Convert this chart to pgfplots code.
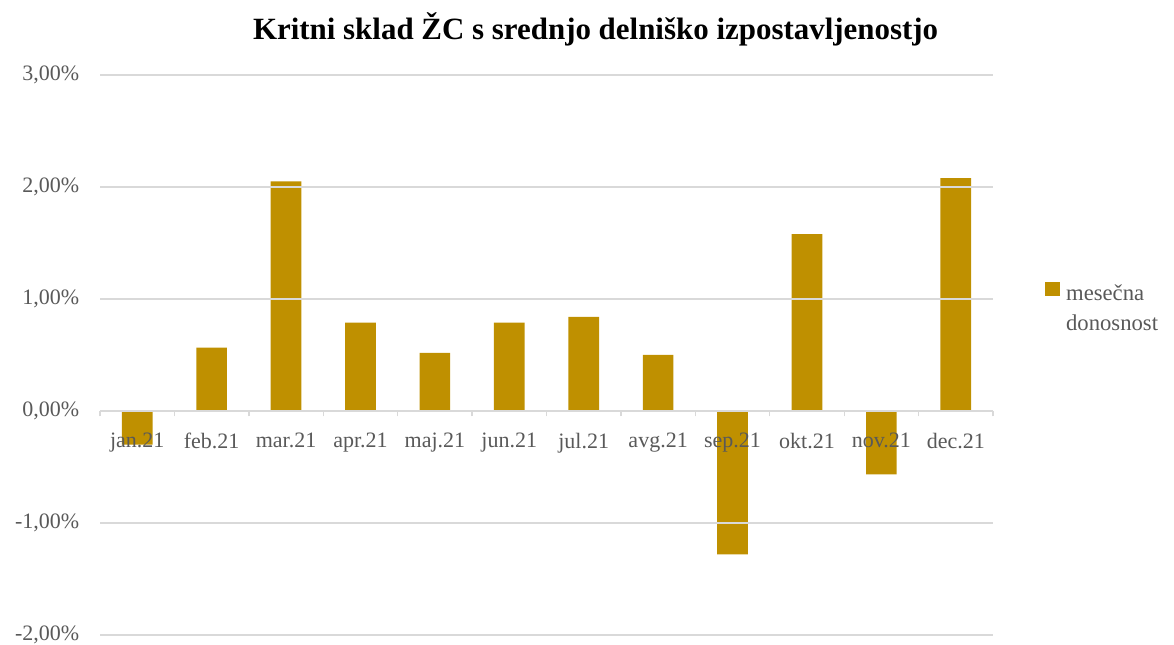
\documentclass[border=0pt]{standalone}
\usepackage{fontspec}
\setmainfont{Liberation Serif}
\usepackage{pgfplots}
\pgfplotsset{compat=1.18}
\definecolor{barc}{HTML}{BF9000}
\definecolor{gridc}{HTML}{D9D9D9}
\definecolor{txtc}{HTML}{595959}
\pgfplotsset{
  layers/labelsontop/.define layer set={
    axis background,axis grid,bars,axis ticks,axis lines,axis tick labels,pre main,main,axis descriptions,axis foreground
  }{},
}
\begin{document}
\begin{tikzpicture}
\begin{axis}[
  set layers=labelsontop,
  scale only axis, width=669.75pt, height=420pt,
  xmin=-0.5, xmax=11.5, ymin=-2, ymax=3,
  axis x line=middle, axis y line=left,
  x axis line style={-, draw=gridc, line width=1pt},
  y axis line style={draw=none},
  hide obscured x ticks=false, hide obscured y ticks=false,
  xtick={0,...,11},
  xticklabels={jan.21,feb.21,mar.21,apr.21,maj.21,jun.21,jul.21,avg.21,sep.21,okt.21,nov.21,dec.21},
  minor xtick={-0.5,0.5,...,11.5},
  major x tick style={draw=none},
  minor x tick style={draw=gridc, line width=1pt},
  minor tick length=4pt,
  tick align=outside,
  xticklabel style={font=\fontsize{16.5}{20}\selectfont, text=txtc, yshift=-13pt},
  ytick={-2,-1,0,1,2,3},
  yticklabels={{-2,00\%},{-1,00\%},{0,00\%},{1,00\%},{2,00\%},{3,00\%}},
  ytick style={draw=none},
  major tick length=0pt,
  yticklabel style={font=\fontsize{16.5}{20}\selectfont, text=txtc, xshift=-12pt},
  ymajorgrids, grid style={draw=gridc, line width=1pt},
  ybar, bar width=23pt,
  title={Kritni sklad ŽC s srednjo delniško izpostavljenostjo},
  title style={font=\bfseries\fontsize{23.2}{28}\selectfont, at={(0.555,1)}, anchor=south, yshift=12pt},
  legend style={at={(1.054,0.614)}, anchor=west, draw=none, font=\fontsize{17}{22.5}\selectfont, text=txtc},
  legend cell align=left,
  legend image code/.code={\fill[barc] (0pt,-4pt) rectangle (10.5pt,6.5pt);},
]
\addplot[fill=barc, draw=none, on layer=bars] coordinates {
(0,-0.30) (1,0.565) (2,2.05) (3,0.79) (4,0.52) (5,0.79)
(6,0.84) (7,0.50) (8,-1.28) (9,1.58) (10,-0.565) (11,2.08)};
\addlegendentry{\begin{tabular}[t]{@{\hspace{3pt}}l@{}}mesečna\\donosnost\end{tabular}}
\coordinate (pa) at (rel axis cs:0,0);
\coordinate (pb) at (rel axis cs:1,1);
\end{axis}
\pgfresetboundingbox
\useasboundingbox ([xshift=-75pt,yshift=-7.5pt]pa) rectangle ([xshift=135.75pt,yshift=56.25pt]pb);
\end{tikzpicture}
\end{document}
